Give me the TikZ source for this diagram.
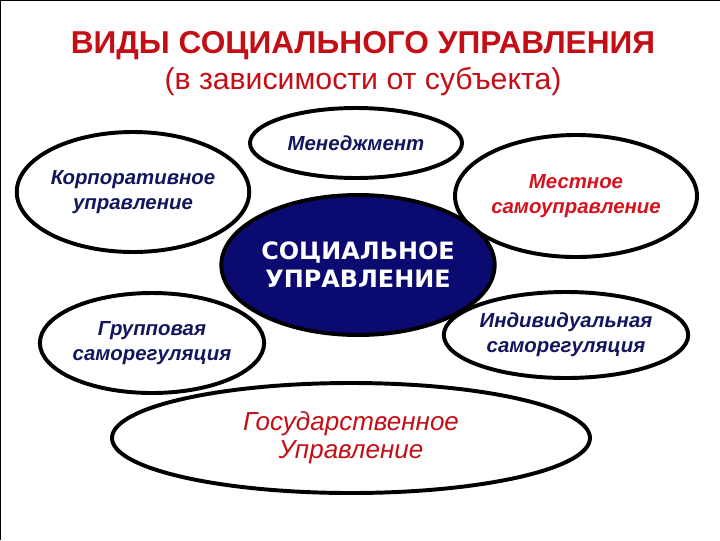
\documentclass[tikz,border=0pt]{standalone}
\usepackage{fontspec}
\setmainfont{Liberation Sans}
\newfontfamily\widefont{DejaVu Sans}
\usetikzlibrary{shapes.geometric}

\definecolor{titlered}{RGB}{196,14,22}
\definecolor{labelred}{RGB}{214,18,30}
\definecolor{labelnavy}{RGB}{18,22,92}
\definecolor{corefill}{RGB}{10,10,112}
\newcommand{\px}{0.025cm}

\begin{document}
\begin{tikzpicture}[
        x=\px, y=-\px,
        every node/.style={align=center, inner sep=0pt},
        kind/.style={ellipse, draw=black, line width=2.8pt},
        navytext/.style={text=labelnavy, font=\fontsize{14.5}{17.5}\selectfont\bfseries\itshape},
        redtext/.style={text=labelred, font=\fontsize{14.5}{17.5}\selectfont\bfseries\itshape}
    ]
        \useasboundingbox (0,0) rectangle (720,540);
        % рамка скриншота
        \draw[line width=1pt] (0,0) -- (720,0);
        \draw[line width=1pt] (0,0) -- (0,540);

        % заголовок
        \node[text=titlered, font=\fontsize{22.5}{26}\selectfont\bfseries] (title) at (363,46) {ВИДЫ СОЦИАЛЬНОГО УПРАВЛЕНИЯ};
        \node[text=titlered, font=\fontsize{21.5}{26}\selectfont] (subtitle) at (363,82) {(в зависимости от субъекта)};

        % виды управления
        \node[kind, navytext, minimum width=212*\px, minimum height=70*\px] (mgmt) at (356,143) {Менеджмент};
        \node[kind, navytext, minimum width=216*\px, minimum height=120*\px] (corp) at (133,192) {Корпоративное\\управление};
        \node[kind, redtext, minimum width=242*\px, minimum height=122*\px] (local) at (576,196) {Местное\\самоуправление};
        \node[kind, navytext, minimum width=224*\px, minimum height=100*\px] (group) at (152,343) {Групповая\\саморегуляция};
        \node[kind, navytext, minimum width=224*\px, minimum height=86*\px] (indiv) at (566,335) {Индивидуальная\\саморегуляция};
        \node[kind, text=titlered, font=\fontsize{18.5}{20}\selectfont\itshape, minimum width=478*\px, minimum height=110*\px] (state) at (351,438) {Государственное\\Управление};

        % центр
        \node[kind, fill=corefill, text=white, font=\fontsize{17}{20}\selectfont\widefont\bfseries, minimum width=256*\px, minimum height=140*\px] (core) at (358,265) {СОЦИАЛЬНОЕ\\УПРАВЛЕНИЕ};
    \end{tikzpicture}
\end{document}
